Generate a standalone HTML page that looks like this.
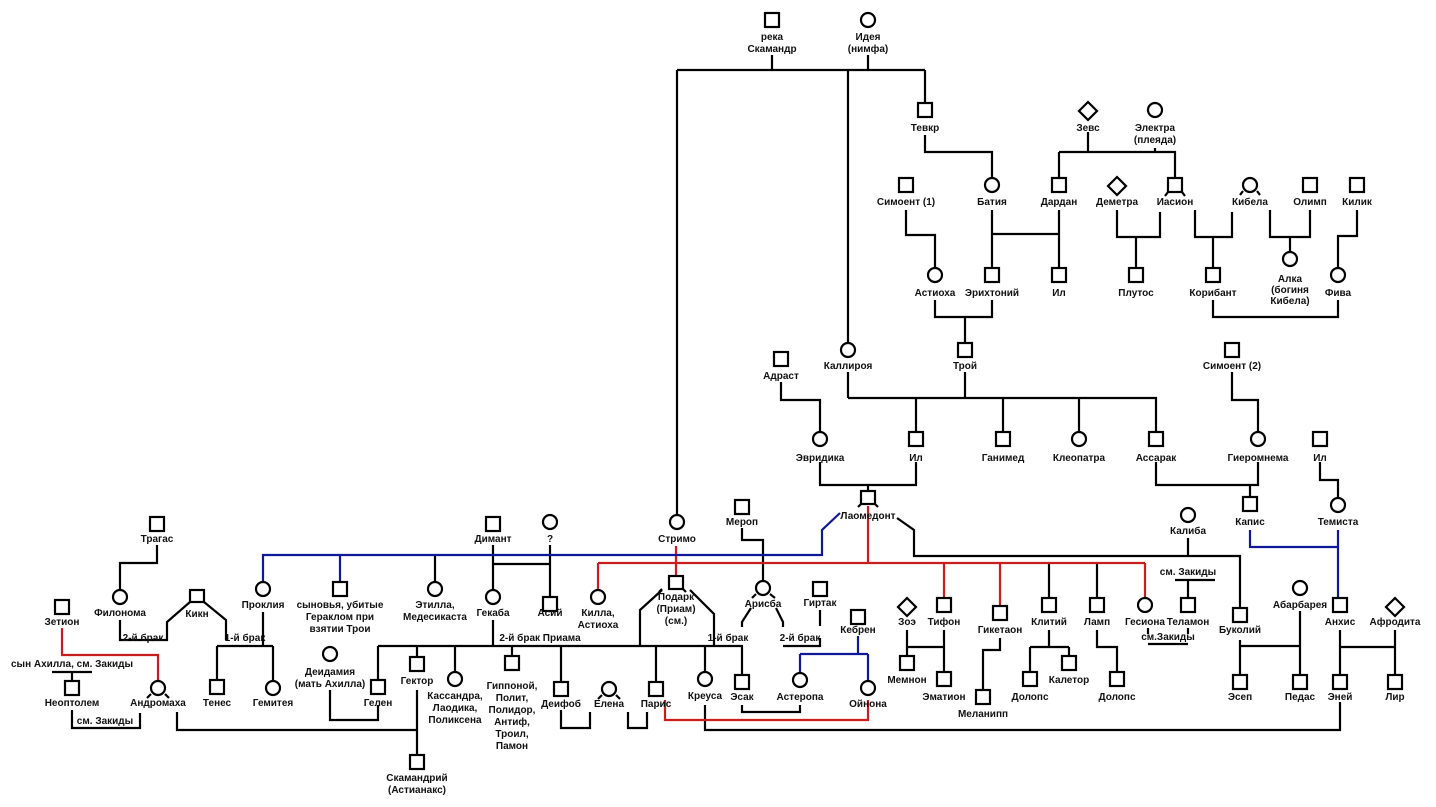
<!DOCTYPE html>
<html><head><meta charset="utf-8"><style>
html,body{margin:0;padding:0;background:#fff;}
svg{display:block;}
text{font-family:"Liberation Sans",sans-serif;font-size:10px;font-weight:bold;fill:#111;text-anchor:middle;}
.k{stroke:#000;stroke-width:2.2;fill:none;}
.r{stroke:#c81e1e;stroke-width:2.2;fill:none;}
.b{stroke:#10189a;stroke-width:2.2;fill:none;}
.s{stroke:#000;stroke-width:2.2;fill:#fff;}
</style></head><body>
<svg width="1436" height="807" viewBox="0 0 1436 807" xmlns="http://www.w3.org/2000/svg">
<g class="k">
<path d="M772 55V70M677 70H925M868 55V70M677 70V515M848 70V343M925 70V103"/>
<path d="M925 135V152H992V178"/>
<path d="M1088 132V152M1155 148V152M1059 152H1175V178M1059 152V178"/>
<path d="M906 210V235H935V268"/>
<path d="M992 210V268M992 234H1059M1059 210V268"/>
<path d="M1117 210V237H1160V212M1136 237V268"/>
<path d="M1195 210V237H1232V212M1213 237V268"/>
<path d="M1270 210V237H1310V210M1290 237V252"/>
<path d="M1357 210V236H1338V268"/>
<path d="M1213 300V317H1338V300"/>
<path d="M935 300V317H992V300M965 317V343"/>
<path d="M965 372V398M848 372V398M848 398H1156V432M916 398V432M1003 398V432M1079 398V432"/>
<path d="M781 382V400H820V432"/>
<path d="M1232 372V400H1258V432"/>
<path d="M1320 462V480H1338V498"/>
<path d="M1156 462V485H1258V462M1250 485V497"/>
<path d="M820 462V485H916V462M868 485V492"/>
<path d="M897 518L914 530V556H1240V608M1188 538V556"/>
<path d="M435 555V582"/>
<path d="M493 545V590M493 564H550V597M550 545V564"/>
<path d="M742 528V540H763V581"/>
<path d="M662 590L640 610V646M690 590L714 614V646"/>
<path d="M378 646H714M378 646V680M417 646V657M417 690V755M455 646V672M512 646V656M561 646V682M656 646V682M705 646V672M493 620V646"/>
<path d="M561 710V728H590V712M628 712V728H647V712"/>
<path d="M705 705V730H1340V702"/>
<path d="M330 690V720H378V705"/>
<path d="M177 712V730H417"/>
<path d="M751 608L742 622V627M714 646H742V675"/>
<path d="M776 608L783 622V627M783 646H820V638M820 610V626"/>
<path d="M742 705V712H800V705"/>
<path d="M907 630V647H944M944 630V672M907 647V656"/>
<path d="M1000 638V650H983V690"/>
<path d="M1049 563V598M1049 630V647M1030 647H1069M1030 647V672M1069 647V656"/>
<path d="M1097 563V598M1097 630V647H1117V672"/>
<path d="M1175 580H1215M1188 580V598"/>
<path d="M1148 628V634M1188 628V634M1148 644H1188"/>
<path d="M1240 640V675M1240 646H1300M1300 611V675"/>
<path d="M1340 630V675M1340 647H1395V630M1395 647V675"/>
<path d="M157 545V563H120V590"/>
<path d="M120 620V640H167V622L190 602M204 602L226 620V640M217 646H273M217 646V680M273 646V681M263 612V646"/>
<path d="M72 672V681M52 672H92M72 710V728H140V713"/>
</g>
<g class="r">
<path d="M868 506V563M598 563H1145M598 563V590M676 546V576M944 563V598M1000 563V606M1145 563V598"/>
<path d="M62 628V655H158V681"/>
<path d="M665 700V720H868V700"/>
</g>
<g class="b">
<path d="M840 513L822 530V555H263V582M340 555V582"/>
<path d="M858 636V654M800 654H868M800 654V673M868 654V681"/>
<path d="M1250 530V547H1338M1338 530V598"/>
</g>
<g class="s">
<rect x="765" y="13" width="14" height="14"/>
<rect x="918" y="103" width="14" height="14"/>
<rect x="899" y="178" width="14" height="14"/>
<rect x="1052" y="178" width="14" height="14"/>
<rect x="1168" y="178" width="14" height="14"/>
<rect x="1303" y="178" width="14" height="14"/>
<rect x="1350" y="178" width="14" height="14"/>
<rect x="985" y="268" width="14" height="14"/>
<rect x="1052" y="268" width="14" height="14"/>
<rect x="1129" y="268" width="14" height="14"/>
<rect x="1206" y="268" width="14" height="14"/>
<rect x="958" y="343" width="14" height="14"/>
<rect x="774" y="352" width="14" height="14"/>
<rect x="1225" y="343" width="14" height="14"/>
<rect x="909" y="432" width="14" height="14"/>
<rect x="996" y="432" width="14" height="14"/>
<rect x="1149" y="432" width="14" height="14"/>
<rect x="1313" y="432" width="14" height="14"/>
<rect x="1243" y="497" width="14" height="14"/>
<rect x="861" y="491" width="14" height="13"/>
<rect x="735" y="500" width="14" height="14"/>
<rect x="486" y="517" width="14" height="14"/>
<rect x="150" y="517" width="14" height="14"/>
<rect x="333" y="582" width="14" height="14"/>
<rect x="543" y="597" width="14" height="14"/>
<rect x="669" y="576" width="14" height="13"/>
<rect x="813" y="582" width="14" height="14"/>
<rect x="937" y="598" width="14" height="14"/>
<rect x="993" y="606" width="14" height="14"/>
<rect x="1042" y="598" width="14" height="14"/>
<rect x="1090" y="598" width="14" height="14"/>
<rect x="1181" y="598" width="14" height="14"/>
<rect x="1233" y="608" width="14" height="14"/>
<rect x="1333" y="598" width="14" height="14"/>
<rect x="851" y="610" width="14" height="14"/>
<rect x="190" y="590" width="14" height="12"/>
<rect x="55" y="600" width="14" height="14"/>
<rect x="65" y="681" width="14" height="14"/>
<rect x="210" y="680" width="14" height="14"/>
<rect x="371" y="680" width="14" height="14"/>
<rect x="410" y="657" width="14" height="14"/>
<rect x="505" y="656" width="14" height="14"/>
<rect x="554" y="682" width="14" height="14"/>
<rect x="649" y="682" width="14" height="14"/>
<rect x="735" y="675" width="14" height="14"/>
<rect x="900" y="656" width="14" height="14"/>
<rect x="937" y="672" width="14" height="14"/>
<rect x="976" y="690" width="14" height="14"/>
<rect x="1023" y="672" width="14" height="14"/>
<rect x="1062" y="656" width="14" height="14"/>
<rect x="1110" y="672" width="14" height="14"/>
<rect x="1233" y="675" width="14" height="14"/>
<rect x="1293" y="675" width="14" height="14"/>
<rect x="1333" y="675" width="14" height="14"/>
<rect x="1388" y="675" width="14" height="14"/>
<rect x="410" y="755" width="14" height="14"/>
<circle cx="868" cy="20" r="7"/>
<circle cx="1155" cy="110" r="7"/>
<circle cx="992" cy="185" r="7"/>
<circle cx="1250" cy="185" r="7"/>
<circle cx="935" cy="275" r="7"/>
<circle cx="1290" cy="259" r="7"/>
<circle cx="1338" cy="275" r="7"/>
<circle cx="848" cy="350" r="7"/>
<circle cx="820" cy="439" r="7"/>
<circle cx="1079" cy="439" r="7"/>
<circle cx="1258" cy="439" r="7"/>
<circle cx="1338" cy="505" r="7"/>
<circle cx="1188" cy="515" r="7"/>
<circle cx="677" cy="522" r="7"/>
<circle cx="550" cy="522" r="7"/>
<circle cx="263" cy="589" r="7"/>
<circle cx="435" cy="589" r="7"/>
<circle cx="493" cy="597" r="7"/>
<circle cx="598" cy="597" r="7"/>
<circle cx="120" cy="597" r="7"/>
<circle cx="763" cy="588" r="7"/>
<circle cx="1145" cy="605" r="7"/>
<circle cx="1300" cy="588" r="7"/>
<circle cx="330" cy="654" r="7"/>
<circle cx="455" cy="679" r="7"/>
<circle cx="273" cy="688" r="7"/>
<circle cx="158" cy="688" r="7"/>
<circle cx="609" cy="689" r="7"/>
<circle cx="705" cy="679" r="7"/>
<circle cx="800" cy="680" r="7"/>
<circle cx="868" cy="688" r="7"/>
<path d="M1088 102L1097 111L1088 120L1079 111Z"/>
<path d="M1117 177L1126 186L1117 195L1108 186Z"/>
<path d="M907 598L916 607L907 616L898 607Z"/>
<path d="M1395 598L1404 607L1395 616L1386 607Z"/>
</g>
<g class="k">
<path d="M1168 192L1165 196M1182 192L1185 196M1243 191L1240 195M1257 191L1260 195M756 594L752 598M770 594L775 598M151 694L147 698M165 694L169 698M602 695L598 699M616 695L620 699"/>
<path d="M662 589L659 592M683 589L686 592M861 504L858 507M875 504L878 507"/>
</g>
<text x="772" y="40">река</text><text x="772" y="52">Скамандр</text>
<text x="868" y="40">Идея</text><text x="868" y="52">(нимфа)</text>
<text x="925" y="131">Тевкр</text>
<text x="1088" y="131">Зевс</text>
<text x="1155" y="131">Электра</text><text x="1155" y="143">(плеяда)</text>
<text x="906" y="205">Симоент (1)</text>
<text x="992" y="205">Батия</text>
<text x="1059" y="205">Дардан</text>
<text x="1117" y="205">Деметра</text>
<text x="1175" y="205">Иасион</text>
<text x="1250" y="205">Кибела</text>
<text x="1310" y="205">Олимп</text>
<text x="1357" y="205">Килик</text>
<text x="935" y="296">Астиоха</text>
<text x="992" y="296">Эрихтоний</text>
<text x="1059" y="296">Ил</text>
<text x="1136" y="296">Плутос</text>
<text x="1213" y="296">Корибант</text>
<text x="1290" y="282">Алка</text><text x="1290" y="293">(богиня</text><text x="1290" y="304">Кибела)</text>
<text x="1338" y="296">Фива</text>
<text x="848" y="369">Каллироя</text>
<text x="965" y="369">Трой</text>
<text x="781" y="379">Адраст</text>
<text x="1232" y="369">Симоент (2)</text>
<text x="820" y="461">Эвридика</text>
<text x="916" y="461">Ил</text>
<text x="1003" y="461">Ганимед</text>
<text x="1079" y="461">Клеопатра</text>
<text x="1156" y="461">Ассарак</text>
<text x="1258" y="461">Гиеромнема</text>
<text x="1320" y="461">Ил</text>
<text x="868" y="519">Лаомедонт</text>
<text x="742" y="525">Мероп</text>
<text x="1250" y="525">Капис</text>
<text x="1338" y="525">Темиста</text>
<text x="1188" y="534">Калиба</text>
<text x="157" y="542">Трагас</text>
<text x="493" y="542">Димант</text>
<text x="550" y="542">?</text>
<text x="677" y="542">Стримо</text>
<text x="1188" y="575">см. Закиды</text>
<text x="263" y="608">Проклия</text>
<text x="340" y="608">сыновья, убитые</text><text x="340" y="620">Гераклом при</text><text x="340" y="632">взятии Трои</text>
<text x="435" y="608">Этилла,</text><text x="435" y="620">Медесикаста</text>
<text x="493" y="616">Гекаба</text>
<text x="550" y="616">Асий</text>
<text x="598" y="616">Килла,</text><text x="598" y="628">Астиоха</text>
<text x="676" y="600">Подарк</text><text x="676" y="612">(Приам)</text><text x="676" y="624">(см.)</text>
<text x="763" y="607">Арисба</text>
<text x="820" y="606">Гиртак</text>
<text x="120" y="616">Филонома</text>
<text x="197" y="617">Кикн</text>
<text x="62" y="625">Зетион</text>
<text x="907" y="625">Зоэ</text>
<text x="944" y="625">Тифон</text>
<text x="1000" y="633">Гикетаон</text>
<text x="1049" y="625">Клитий</text>
<text x="1097" y="625">Ламп</text>
<text x="1145" y="625">Гесиона</text>
<text x="1188" y="625">Теламон</text>
<text x="1240" y="633">Буколий</text>
<text x="1300" y="608">Абарбарея</text>
<text x="1340" y="625">Анхис</text>
<text x="1395" y="625">Афродита</text>
<text x="858" y="633">Кебрен</text>
<text x="1168" y="640">см.Закиды</text>
<text x="143" y="641">2-й брак</text>
<text x="245" y="641">1-й брак</text>
<text x="540" y="641">2-й брак  Приама</text>
<text x="728" y="641">1-й брак</text>
<text x="800" y="641">2-й брак</text>
<text x="72" y="667">сын Ахилла, см. Закиды</text>
<text x="330" y="675">Деидамия</text><text x="330" y="687">(мать  Ахилла)</text>
<text x="417" y="684">Гектор</text>
<text x="455" y="699">Кассандра,</text><text x="455" y="711">Лаодика,</text><text x="455" y="723">Поликсена</text>
<text x="512" y="689">Гиппоной,</text><text x="512" y="701">Полит,</text><text x="512" y="713">Полидор,</text><text x="512" y="725">Антиф,</text><text x="512" y="737">Троил,</text><text x="512" y="749">Памон</text>
<text x="705" y="699">Креуса</text>
<text x="907" y="683">Мемнон</text>
<text x="1069" y="683">Калетор</text>
<text x="72" y="706">Неоптолем</text>
<text x="158" y="706">Андромаха</text>
<text x="217" y="706">Тенес</text>
<text x="273" y="706">Гемитея</text>
<text x="378" y="706">Гелен</text>
<text x="561" y="707">Деифоб</text>
<text x="609" y="707">Елена</text>
<text x="656" y="707">Парис</text>
<text x="742" y="700">Эсак</text>
<text x="800" y="700">Астеропа</text>
<text x="868" y="707">Ойнона</text>
<text x="944" y="700">Эматион</text>
<text x="1030" y="700">Долопс</text>
<text x="1117" y="700">Долопс</text>
<text x="1240" y="700">Эсеп</text>
<text x="1300" y="700">Педас</text>
<text x="1340" y="700">Эней</text>
<text x="1395" y="700">Лир</text>
<text x="983" y="717">Меланипп</text>
<text x="105" y="724">см. Закиды</text>
<text x="417" y="781">Скамандрий</text><text x="417" y="793">(Астианакс)</text>
</svg>
</body></html>
